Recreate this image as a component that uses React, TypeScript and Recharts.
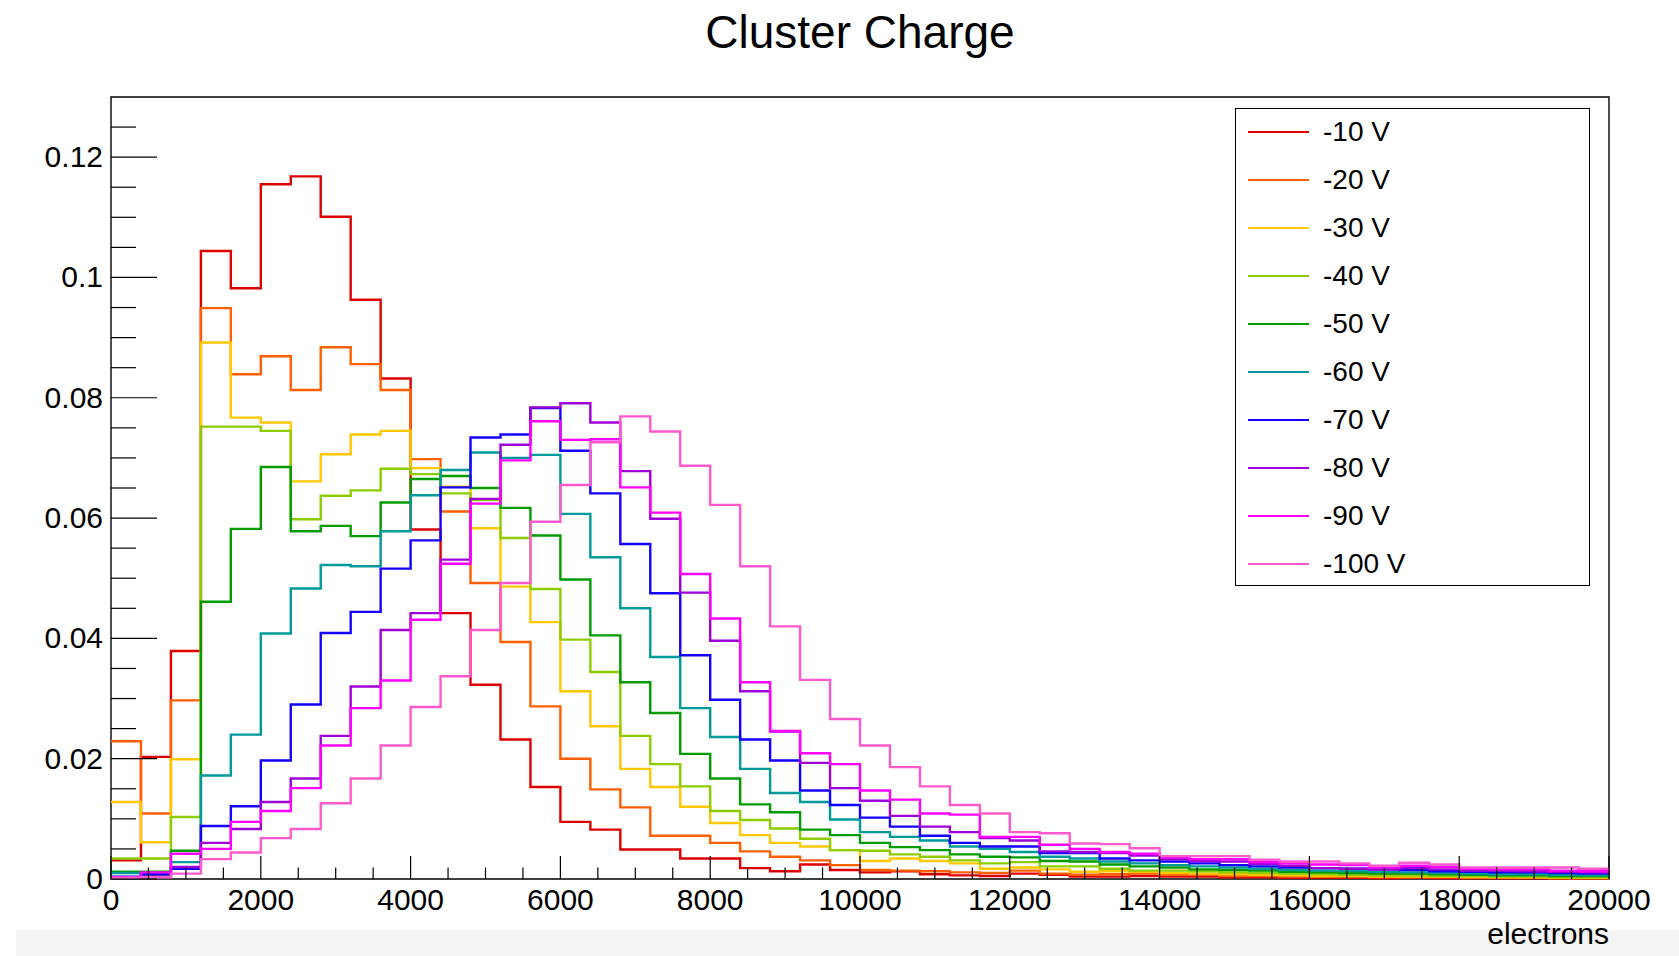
import { LineChart, Line, XAxis, YAxis, ReferenceArea } from 'recharts';

// 50 bins of 400 electrons, 0..20000
const binStarts = Array.from({ length: 50 }, (_, i) => i * 400);

const v10 = [
  0.0031, 0.0203, 0.0379, 0.1044, 0.0982, 0.1155, 0.1168, 0.1101, 0.0963, 0.0832,
  0.0581, 0.0442, 0.0323, 0.0232, 0.0153, 0.0095, 0.0082, 0.0049, 0.0049, 0.0034,
  0.0034, 0.0018, 0.0013, 0.0024, 0.0015, 0.0011, 0.0013, 0.0008, 0.0006, 0.0005,
  0.0009, 0.0007, 0.0004, 0.0004, 0.0005, 0.0004, 0.0004, 0.0003, 0.0003, 0.0002,
  0.0002, 0.0002, 0.0001, 0.0002, 0.0001, 0.0001, 0.0001, 0.0001, 0.0001, 0.0001,
];
const v20 = [
  0.0229, 0.0109, 0.0297, 0.0949, 0.0839, 0.0869, 0.0813, 0.0884, 0.0856, 0.0813,
  0.0698, 0.0611, 0.0492, 0.0394, 0.0287, 0.02, 0.0149, 0.0119, 0.0072, 0.0072,
  0.006, 0.0046, 0.0037, 0.0031, 0.0023, 0.0015, 0.0014, 0.0013, 0.0011, 0.001,
  0.0014, 0.0009, 0.0007, 0.0008, 0.0009, 0.0007, 0.0007, 0.0005, 0.0005, 0.0004,
  0.0004, 0.0004, 0.0003, 0.0003, 0.0003, 0.0003, 0.0002, 0.0002, 0.0001, 0.0001,
];
const v30 = [
  0.0128, 0.0061, 0.0199, 0.0892, 0.0767, 0.0759, 0.0661, 0.0706, 0.0739, 0.0745,
  0.0683, 0.0652, 0.0583, 0.0486, 0.0427, 0.0312, 0.0254, 0.0183, 0.0153, 0.012,
  0.0093, 0.0073, 0.006, 0.0054, 0.0048, 0.003, 0.0034, 0.003, 0.0026, 0.0017,
  0.0019, 0.0016, 0.0012, 0.0013, 0.0012, 0.001, 0.0009, 0.0008, 0.0007, 0.0006,
  0.0005, 0.0005, 0.0004, 0.0004, 0.0004, 0.0003, 0.0003, 0.0003, 0.0002, 0.0002,
];
const v40 = [
  0.0034, 0.0034, 0.0103, 0.0752, 0.0752, 0.0745, 0.0598, 0.0637, 0.0646, 0.0682,
  0.0673, 0.0641, 0.063, 0.0567, 0.0482, 0.0398, 0.0344, 0.0238, 0.0191, 0.0154,
  0.0113, 0.0098, 0.0084, 0.0067, 0.0048, 0.0047, 0.0041, 0.0037, 0.0031, 0.0026,
  0.0028, 0.0021, 0.0021, 0.0017, 0.0014, 0.0014, 0.0013, 0.0011, 0.001, 0.0009,
  0.0008, 0.0007, 0.0006, 0.0006, 0.0005, 0.0005, 0.0004, 0.0004, 0.0003, 0.0003,
];
const v50 = [
  0.0012, 0.0012, 0.0047, 0.0461, 0.0582, 0.0685, 0.0578, 0.0587, 0.057, 0.0626,
  0.0665, 0.067, 0.065, 0.0617, 0.0571, 0.0498, 0.0405, 0.0327, 0.0276, 0.0208,
  0.0167, 0.0124, 0.0111, 0.0082, 0.0073, 0.006, 0.0053, 0.0048, 0.0041, 0.0037,
  0.0036, 0.003, 0.0029, 0.0024, 0.0021, 0.0019, 0.0016, 0.0015, 0.0014, 0.0012,
  0.0011, 0.001, 0.0009, 0.0009, 0.0008, 0.0007, 0.0006, 0.0006, 0.0005, 0.0005,
];
const v60 = [
  0.001, 0.0006, 0.0028, 0.0172, 0.024, 0.0408, 0.0483, 0.0522, 0.052, 0.0578,
  0.0638, 0.068, 0.0709, 0.07, 0.0705, 0.0607, 0.0535, 0.045, 0.0369, 0.0284,
  0.0236, 0.0183, 0.0143, 0.0128, 0.0099, 0.0078, 0.007, 0.0064, 0.0054, 0.005,
  0.0045, 0.0037, 0.0034, 0.0029, 0.0026, 0.0023, 0.0021, 0.0019, 0.0017, 0.0015,
  0.0014, 0.0013, 0.0012, 0.0011, 0.001, 0.0009, 0.0008, 0.0008, 0.0007, 0.0006,
];
const v70 = [
  0.0004, 0.0008, 0.0017, 0.0088, 0.0121, 0.0197, 0.029, 0.0409, 0.0444, 0.0516,
  0.0563, 0.0651, 0.0734, 0.0739, 0.0783, 0.0712, 0.0641, 0.0557, 0.0475, 0.0372,
  0.0298, 0.0232, 0.0197, 0.0147, 0.0123, 0.0102, 0.0087, 0.0072, 0.006, 0.0054,
  0.0054, 0.0043, 0.0043, 0.0034, 0.0031, 0.0029, 0.0026, 0.0023, 0.0021, 0.0019,
  0.0018, 0.0017, 0.0016, 0.0015, 0.0013, 0.0012, 0.0011, 0.0011, 0.001, 0.0009,
];
const v80 = [
  0.0002, 0.0004, 0.002, 0.006, 0.0083, 0.0128, 0.0167, 0.0238, 0.032, 0.0414,
  0.0442, 0.0531, 0.0632, 0.0722, 0.0784, 0.0791, 0.0759, 0.0678, 0.0599, 0.0476,
  0.0396, 0.0312, 0.0245, 0.0193, 0.0151, 0.013, 0.0105, 0.0087, 0.0078, 0.0068,
  0.0064, 0.0046, 0.0045, 0.0043, 0.0039, 0.0033, 0.003, 0.0029, 0.0025, 0.0022,
  0.0018, 0.0017, 0.0016, 0.0018, 0.0016, 0.0014, 0.0014, 0.0013, 0.0012, 0.0011,
];
const v90 = [
  0.0003, 0.0011, 0.0042, 0.005, 0.0095, 0.0113, 0.0151, 0.0222, 0.0284, 0.033,
  0.0431, 0.0524, 0.0624, 0.0696, 0.0761, 0.073, 0.0731, 0.0651, 0.0609, 0.0507,
  0.0433, 0.0327, 0.0246, 0.0209, 0.0191, 0.0147, 0.0132, 0.0109, 0.0107, 0.007,
  0.007, 0.0057, 0.005, 0.0045, 0.0042, 0.0036, 0.0033, 0.0033, 0.0028, 0.0026,
  0.0024, 0.0023, 0.0019, 0.0022, 0.002, 0.0017, 0.0016, 0.0016, 0.0014, 0.0013,
];
const v100 = [
  0.0002, 0.0003, 0.0009, 0.0033, 0.0044, 0.0068, 0.0083, 0.0126, 0.0167, 0.0222,
  0.0286, 0.0337, 0.0414, 0.0492, 0.0594, 0.0655, 0.0726, 0.0769, 0.0744, 0.0687,
  0.0622, 0.052, 0.042, 0.0331, 0.0266, 0.0222, 0.0186, 0.0154, 0.0123, 0.0109,
  0.0078, 0.0076, 0.0059, 0.0058, 0.0051, 0.0038, 0.0038, 0.0038, 0.0032, 0.0029,
  0.0029, 0.0026, 0.0022, 0.0027, 0.0024, 0.0019, 0.0019, 0.0019, 0.0019, 0.0017,
];

const seriesNames = ['-10 V', '-20 V', '-30 V', '-40 V', '-50 V', '-60 V', '-70 V', '-80 V', '-90 V', '-100 V'];
const seriesValues = [v10, v20, v30, v40, v50, v60, v70, v80, v90, v100];
const COLORS = ['#dd0000', '#ff5f00', '#ffc800', '#8ccc00', '#009c00', '#009a9a', '#1400ff', '#a000d8', '#ff00ff', '#ff5acd'];

const xTicks = Array.from({ length: 41 }, (_, i) => i * 500);
const xLabels = [0, 2000, 4000, 6000, 8000, 10000, 12000, 14000, 16000, 18000, 20000];
const yTicks = Array.from({ length: 26 }, (_, i) => Math.round(i * 5) / 1000);
const yLabels = ['0', '0.02', '0.04', '0.06', '0.08', '0.1', '0.12'];

// one row per bin edge, plus a closing point at 20000 for the step line
const rows = binStarts.concat([20000]).map((x, i) => {
  const row: Record<string, number> = { x };
  seriesValues.forEach((vals, s) => {
    row['s' + s] = vals[Math.min(i, vals.length - 1)];
  });
  return row;
});

const FONT = '"Liberation Sans", Arial, Helvetica, sans-serif';

const XTick = (props: any) => {
  const { x, y, payload } = props;
  const v = payload.value;
  const major = xLabels.includes(v);
  return (
    <g>
      <line x1={x} x2={x} y1={y} y2={y - (major ? 23 : 11.5)} stroke="#000" strokeWidth={1.2} />
      {major && (
        <text x={x} y={y + 31} textAnchor="middle" fontSize={30} fontFamily={FONT} fill="#000">
          {v}
        </text>
      )}
    </g>
  );
};

const YTick = (props: any) => {
  const { x, y, payload } = props;
  const v = payload.value;
  const idx = Math.round(v * 1000) % 20 === 0 ? Math.round(v * 1000) / 20 : -1;
  const major = idx >= 0;
  return (
    <g>
      <line x1={x} x2={x + (major ? 46 : 25)} y1={y} y2={y} stroke="#000" strokeWidth={1.2} />
      {major && (
        <text x={x - 8} y={y + 10} textAnchor="end" fontSize={30} fontFamily={FONT} fill="#000">
          {yLabels[idx]}
        </text>
      )}
    </g>
  );
};

export default function App() {
  return (
    <div
      style={{
        position: 'fixed',
        left: 0,
        top: 0,
        width: 1679,
        height: 956,
        background: '#fff',
        fontFamily: FONT,
        overflow: 'hidden',
      }}
    >
      <div style={{ position: 'absolute', left: 16, top: 930, width: 1663, height: 26, background: '#f4f4f4' }} />

      <div
        style={{
          position: 'absolute',
          left: 860,
          top: 8,
          transform: 'translateX(-50%)',
          fontSize: 46,
          lineHeight: '48px',
          whiteSpace: 'nowrap',
          color: '#000',
        }}
      >
        Cluster Charge
      </div>

      <div style={{ position: 'absolute', left: 0, top: 0 }}>
        <LineChart width={1679} height={956} data={rows} margin={{ top: 97, right: 70, bottom: 37, left: 11 }}>
          <XAxis
            dataKey="x"
            type="number"
            domain={[0, 20000]}
            ticks={xTicks}
            interval={0}
            tickSize={0}
            tickMargin={0}
            axisLine={false}
            tickLine={false}
            height={40}
            tick={XTick}
          />
          <YAxis
            type="number"
            domain={[0, 0.13]}
            ticks={yTicks}
            interval={0}
            tickSize={0}
            tickMargin={0}
            axisLine={false}
            tickLine={false}
            width={100}
            tick={YTick}
          />
          {seriesNames.map((name, s) => (
            <Line
              key={name}
              name={name}
              type="stepAfter"
              dataKey={'s' + s}
              stroke={COLORS[s]}
              strokeWidth={2.4}
              dot={false}
              activeDot={false}
              isAnimationActive={false}
            />
          ))}
          <ReferenceArea x1={0} x2={20000} y1={0} y2={0.13} fill="none" stroke="#000" strokeWidth={1.4} ifOverflow="visible" />
        </LineChart>
      </div>

      {/* Legend */}
      <div
        style={{
          position: 'absolute',
          left: 1235,
          top: 108,
          width: 353,
          height: 476,
          border: '1.5px solid #000',
          background: '#fff',
        }}
      >
        {seriesNames.map((name, s) => (
          <div
            key={name}
            style={{ position: 'absolute', left: 12, top: 24 + s * 48 - 18, height: 34, display: 'flex', alignItems: 'center' }}
          >
            <div style={{ width: 61, height: 2.4, background: COLORS[s] }} />
            <span style={{ marginLeft: 14, fontSize: 28, color: '#000' }}>{name}</span>
          </div>
        ))}
      </div>

      <div
        style={{
          position: 'absolute',
          right: 70,
          top: 917,
          fontSize: 30,
          lineHeight: '34px',
          color: '#000',
        }}
      >
        electrons
      </div>
    </div>
  );
}
